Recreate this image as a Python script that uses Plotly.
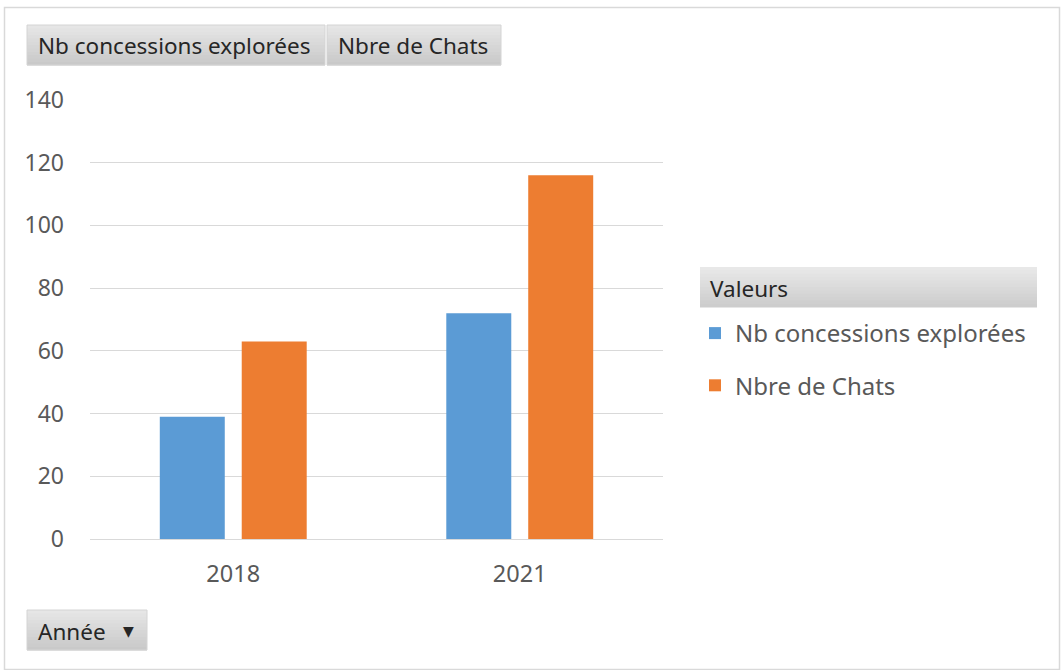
import plotly.graph_objects as go

# ---- data ----
categories = ["2018", "2021"]
series_names = ["Nb concessions explorées", "Nbre de Chats"]
nb_concessions = [39, 72]
nbre_chats = [63, 116]
y_ticks = [0, 20, 40, 60, 80, 100, 120, 140]
colors = ["#5B9BD5", "#ED7D31"]

W, H = 1063, 670
L, R, T, B = 90, 400, 100, 131
PW, PH = W - L - R, H - T - B

FONT = "Noto Sans, Open Sans, sans-serif"


def px(x):
    return (x - L) / PW


def py(y):
    return (H - B - y) / PH


fig = go.Figure()
for i, (name, vals) in enumerate(zip(series_names, [nb_concessions, nbre_chats])):
    fig.add_trace(go.Bar(
        x=categories, y=vals, name=name,
        marker=dict(color=colors[i], line=dict(width=0)),
        legendgroup=f"g{i}",
        hoverinfo="skip",
    ))

shapes = []
annotations = []


def gradient_rect(x0, y0, x1, y1, top, bottom, n=12, border=None):
    def hx(c):
        return [int(c[k:k + 2], 16) for k in (1, 3, 5)]
    a, b = hx(top), hx(bottom)
    h = (y1 - y0) / n
    for k in range(n):
        t = k / (n - 1)
        c = [round(a[j] + (b[j] - a[j]) * t) for j in range(3)]
        col = "rgb(%d,%d,%d)" % tuple(c)
        shapes.append(dict(type="rect", xref="paper", yref="paper",
                           x0=px(x0), x1=px(x1), y0=py(y0 + k * h), y1=py(y0 + (k + 1) * h + 0.6),
                           fillcolor=col, line=dict(width=0), layer="below"))
    if border:
        shapes.append(dict(type="rect", xref="paper", yref="paper",
                           x0=px(x0), x1=px(x1), y0=py(y0), y1=py(y1),
                           fillcolor="rgba(0,0,0,0)", line=dict(width=1, color=border), layer="above"))


# outer chart border
shapes.append(dict(type="rect", xref="paper", yref="paper",
                   x0=px(4.5), x1=px(1059.5), y0=py(7.5), y1=py(669.5),
                   fillcolor="rgba(0,0,0,0)", line=dict(width=1.5, color="#d9d9d9"), layer="below"))

# field buttons
gradient_rect(27, 25, 325, 65, "#e6e6e6", "#c9c9c9", border="#d4d4d4")
gradient_rect(327, 25, 501, 65, "#e6e6e6", "#c9c9c9", border="#d4d4d4")
gradient_rect(27, 610, 147, 650, "#e6e6e6", "#c9c9c9", border="#d4d4d4")
gradient_rect(700, 267, 1037, 307, "#e8e8e8", "#cdcdcd")

BTN = 22.5
annotations += [
    dict(x=px(36), y=py(46), xref="paper", yref="paper", text="Nb concessions explorées",
         showarrow=False, xanchor="left", yanchor="middle",
         font=dict(family=FONT, size=BTN, color="#262626")),
    dict(x=px(336), y=py(46), xref="paper", yref="paper", text="Nbre de Chats",
         showarrow=False, xanchor="left", yanchor="middle",
         font=dict(family=FONT, size=BTN, color="#262626")),
    dict(x=px(36), y=py(631), xref="paper", yref="paper", text="Année",
         showarrow=False, xanchor="left", yanchor="middle",
         font=dict(family=FONT, size=BTN, color="#262626")),
    dict(x=px(128), y=py(631), xref="paper", yref="paper", text="▼",
         showarrow=False, xanchor="center", yanchor="middle",
         font=dict(family="DejaVu Sans", size=14, color="#262626")),
    dict(x=px(708), y=py(288), xref="paper", yref="paper", text="Valeurs",
         showarrow=False, xanchor="left", yanchor="middle",
         font=dict(family=FONT, size=BTN, color="#262626")),
]

fig.update_layout(
    width=W, height=H,
    margin=dict(l=L, r=R, t=T, b=B, pad=0),
    paper_bgcolor="white", plot_bgcolor="white",
    barmode="group", bargap=0.428, bargroupgap=0.207,
    showlegend=True,
    legend=dict(x=px(695), y=py(311), xref="paper", yref="paper",
                xanchor="left", yanchor="top",
                font=dict(family=FONT, size=24, color="#595959"),
                tracegroupgap=18, bgcolor="rgba(0,0,0,0)"),
    xaxis=dict(type="category", showgrid=False, showline=False, zeroline=False,
               ticks="", tickfont=dict(family=FONT, size=23.5, color="#595959"),
               ticklabelstandoff=18, fixedrange=True),
    yaxis=dict(range=[0, 140], tickvals=y_ticks, showgrid=True, gridcolor="#d9d9d9",
               gridwidth=1.3, zeroline=True, zerolinecolor="#d9d9d9", zerolinewidth=1.3,
               showline=False, ticks="",
               tickfont=dict(family=FONT, size=23, color="#595959"),
               ticklabelstandoff=25, fixedrange=True),
    shapes=shapes, annotations=annotations,
    hovermode=False,
)

fig.write_html("out.html", config=dict(displayModeBar=False),
               post_script="document.body.style.margin='0';document.body.style.overflow='hidden';")
